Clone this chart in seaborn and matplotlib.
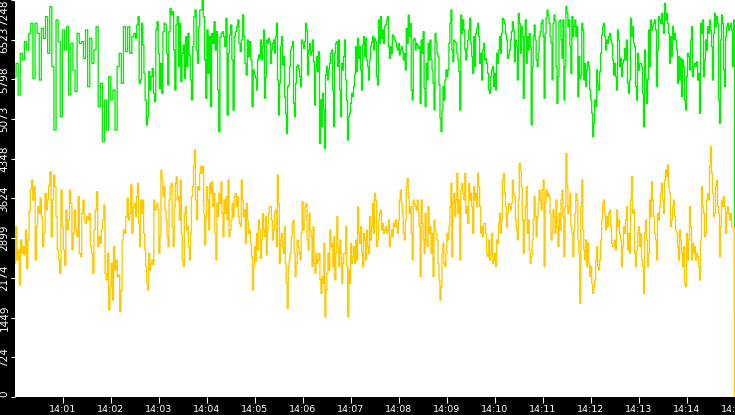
import numpy as np
import pandas as pd
import matplotlib
matplotlib.use("Agg")
import matplotlib.pyplot as plt
import seaborn as sns

# ---------------- data ----------------
green_1 = [5848, 6092, 5514, 6274, 6153, 6487, 6335, 6639, 6822, 5818, 6822, 6639, 5787, 6731, 6548, 6944,
           6274, 7126, 6031, 4874, 6883, 6487, 5118, 6700, 6335, 6761, 5514, 6457, 5970, 5574, 6639, 6457,
           6487, 6183, 6700, 5666, 6548, 6092, 6335, 6761, 5300, 5727, 4661, 5422, 4874, 5848, 5422, 5605,
           4874, 6031, 6274, 5727, 6761, 6305, 6761, 6274, 6579]
green_2 = [6639, 6548, 6792, 6944, 5727, 5787, 6822, 6426, 5909, 5422, 4966, 5118, 5940, 5605, 5848, 6000,
           5544, 5392, 6700, 6852, 6274, 5635, 6092, 5544, 6670, 6822, 6792, 6274, 5696, 6670, 7096, 6974,
           7035, 6335, 5605, 6792, 6944, 6031, 6822, 5757, 6274, 6426, 5818, 6579, 6031, 6639, 6244, 5787,
           5422, 6396, 6944, 7065, 6335, 6092, 6761, 7065, 7065, 7248, 6944, 6153, 5453, 6700, 5909, 6579,
           5300, 6639, 6457, 6852, 6335, 6670, 5605, 4844, 6579, 6639, 6670, 6579, 6396, 6913, 5148, 6274,
           6609, 6792, 6153, 5240, 6579, 6670, 6761, 6883, 6457, 6305, 6518, 6974, 6579, 6092, 5879, 6518,
           6213, 6487, 6153, 5300, 5970]
green_3 = [5879, 5818, 5605, 6153, 6244, 6183, 6518, 6153, 6396, 6700, 5453, 5848, 6518, 6457, 6548, 6487,
           6092, 6335, 6457, 6518, 6274, 6579, 6822, 5787, 5148, 5727, 6396, 6579, 6061, 6213, 5483, 5179,
           4814, 5666, 5696, 6031, 6335, 6396, 6487, 5361, 5118, 5727, 6031, 6061, 6000, 5848, 5666, 6518,
           6457, 6366, 6487, 6822, 6700, 5879, 6335, 6457, 6244, 6305, 6518, 6122, 5331, 5970, 6213, 5940,
           6305, 4631, 5422, 4935, 5544, 5240, 4540, 5879, 6031, 5787, 5970, 6092, 6274, 6335, 5605, 4935,
           6274, 6457, 6487, 6031, 6518, 5605, 5118, 6092, 5970, 6213, 6518, 5787, 5422, 4692, 5118, 5179,
           5361, 5544, 5483, 5666, 5879, 6396, 5940, 6548, 6183, 6396, 5970, 5605, 6426, 6579, 6213, 6548,
           6153, 6031, 5787, 6153, 6396, 6487, 6579, 6335]
green_4 = [6548, 6487, 5848, 5696, 6883, 6457, 6944, 6548, 6700, 6457, 6761, 6792, 6883, 6944, 6396, 6183,
           6396, 6274, 6609, 6579, 6518, 6487, 6396, 6335, 6457, 6244, 6335, 6396, 6305, 6153, 6274, 5970,
           6731, 6457, 6974, 6579, 6822, 5605, 5422, 6518, 6548, 6335, 6457, 6426, 6366, 6396, 5361, 6518,
           6274, 6670, 5635, 5300, 6092, 5787, 6457, 6153, 6518, 6153, 5970, 5727, 5240, 6639, 6487, 6274,
           6213, 5696, 5088, 4844, 5240, 5666, 5422, 5787, 5970, 5848, 5970, 6457, 6822, 7065, 6335, 6122,
           6518, 6487, 6457, 6274, 6153, 5940, 5240, 6974, 6639, 6883, 6700, 6335, 6153, 6366, 6518, 6700,
           6913, 6457, 6213, 5909, 6579, 6031, 6639, 6731, 6822, 6579, 6092, 6274, 5787, 6335, 6457, 6153,
           6183, 6092, 5909, 5605, 5544, 5848, 5970, 6031, 5666]
green_5 = [5909, 5605, 6274, 6092, 6335, 6579, 6274, 6639, 6913, 6883, 6822, 6639, 6518, 6183, 6244, 6335,
           6518, 6670, 6852, 6700, 6122, 6518, 6396, 5787, 7004, 6822, 6274, 6761, 6579, 5453, 6579, 6883,
           6092, 6579, 6335, 6639, 6396, 4966, 6031, 6579, 6792, 6518, 6153, 6031, 6274, 6579, 6670, 6822,
           6883, 6579, 5453, 6639, 6913, 7065, 6974, 6822, 6579, 6457, 5787, 6822, 6974, 6883, 6031, 5361,
           5848, 6852, 6883, 6518, 6183, 6883, 5422, 6031, 7126, 7004, 6761, 6883, 6396, 5909, 6944, 6579,
           6761, 6883, 6579, 6761, 5483, 6213, 5818, 5879, 6822, 6700, 5787, 6092, 5666, 5970, 6122, 6031,
           5605, 5422, 5179, 4753, 4996, 5422, 5300, 5970, 5696, 5605, 5940, 6274, 6609, 6761, 6822, 6579,
           6335, 6518, 6457, 6579, 6639, 6518, 6457, 6153, 5879]
green_6 = [6092, 5848, 5605, 6700, 6518, 6031, 6183, 5848, 6092, 6153, 6366, 6153, 6518, 5727, 5544, 5787,
           6913, 6579, 6761, 6457, 6396, 5666, 5422, 6274, 5970, 6092, 6092, 6031, 5544, 4935, 6335, 5818,
           5361, 5787, 6700, 6031, 6883, 6700, 6761, 6822, 6883, 6700, 5666, 6335, 6944, 6883, 6822, 7004,
           6822, 6639, 7187, 6883, 7004, 6822, 6639, 6092, 6579, 6213, 6761, 6518, 6639, 6518, 6335, 5727,
           6213, 5787, 6183, 5483, 6153, 6031, 5422, 5240, 5848, 6274, 6213, 5970, 6518, 6761, 5848, 6031,
           6092, 6031, 6122, 5787, 5909, 5179, 6822, 6639, 6883, 5848, 6153, 6518, 6335, 6761, 6639, 6883,
           6700, 6396, 5787, 6639, 7004, 6761, 6944, 6822, 5422, 4996, 6518, 6974, 6822, 5970, 5666, 6579,
           6761, 6822, 6700, 6761, 6822, 6700, 6031, 6883]
green_end = 1530

yellow_1 = [2440, 3109, 2501, 2684, 2045, 2866, 2623, 2744, 2592, 3049, 2349, 2866, 3383, 3779, 3962, 3596,
            3840, 2501, 3109, 3475, 3353, 3627, 3292, 2744, 2988, 3718, 3414, 3596, 3870, 4114, 2927, 3596,
            4053, 3840, 3292, 2684, 2501, 2258, 3779, 3109, 2684, 2410, 3414, 3049, 3231, 3779, 3535, 2684,
            2988, 3414, 3049, 2927, 3657, 2623, 2562, 3353, 3596, 3231, 3170, 3292, 3231, 3353, 2744, 2623,
            2258, 3049, 3414, 3749, 2744, 2927, 2805, 3049, 3231, 3505, 2258, 2136, 2623, 1588, 2014, 2440,
            1771, 2744, 2318, 2501, 2197, 2227, 1558, 1953, 2866, 3049, 2988, 3292, 3627, 3231, 3353, 3870,
            2988, 3475]
yellow_2 = [3535, 3292, 3657, 3901, 3170, 2744, 3596, 3353, 3596, 2988, 2684, 2379, 2075, 1953, 2623, 2318,
            2440, 2501, 2410, 3596, 3414, 3475, 3535, 3414, 2623, 2927, 4144, 3962, 3657, 3840, 3414, 3231,
            2927, 2744, 3596, 3840, 3901, 3109, 2744, 3475, 3901, 4022, 3596, 3657, 3231, 3962, 2988, 2501,
            2379, 3353, 3475, 3049, 3109, 2744, 2501, 2988, 3657, 3840, 4205, 4509, 3596, 3231, 3840, 3779,
            4083, 4205, 4083, 4205, 3353, 2775, 3292, 3840, 3596, 3049, 3901, 3718, 3931, 3475, 3718, 2988,
            2501, 3535, 3292, 3718, 3535, 3931, 3353, 2927, 3596, 3353, 3657, 3231, 3962, 2927, 3049, 3231,
            3535, 3292, 3657, 3718, 3475, 3657, 3292, 3170, 3109, 3962, 3596, 3292, 3414, 2805, 3535, 3231,
            2988, 3049, 2805, 2562, 1953, 2379]
yellow_3 = [2744, 2471, 2988, 2684, 3231, 3049, 2531, 2866, 3353, 3049, 2927, 3292, 2592, 3049, 3353, 3475,
            3475, 3231, 2866, 3049, 3353, 3414, 2744, 4053, 3535, 2440, 2866, 2988, 2744, 2623, 3109, 2440,
            2075, 1618, 2379, 2501, 2623, 2927, 3170, 3231, 2623, 2197, 2440, 2866, 2744, 2623, 2501, 2988,
            3566, 3049, 3231, 3475, 3535, 2866, 2684, 3353, 3049, 2927, 2379, 3109, 2440, 2258, 2623, 2440,
            2501, 2623, 2136, 1892, 2197, 2075, 2805, 1466, 1953, 2258, 2623, 2318, 3049, 2744, 2805, 2379,
            2927, 2136, 2623, 3292, 2744, 2379, 2866, 2623, 2075, 2440, 2623, 2623, 3109, 2379, 1466, 2318,
            2075, 2805, 2440, 2562, 2744, 2440, 2866, 2501, 3475, 2988, 2805, 3109, 2623, 2379, 2988, 2866,
            2501, 3049, 2744, 2623, 3292, 2866, 3109, 3535, 2988]
yellow_4 = [3718, 3596, 2744, 2866, 3231, 3353, 3414, 3049, 3170, 2988, 3049, 3109, 2988, 3049, 3231, 2744,
            2927, 3049, 2927, 3170, 3109, 3231, 3109, 2988, 3231, 3596, 3779, 3535, 3353, 2988, 2866, 3231,
            3840, 3992, 3657, 3353, 3475, 2988, 2501, 3596, 3535, 3475, 3414, 3596, 3353, 3109, 2197, 3596,
            3170, 2866, 2623, 3353, 2866, 2744, 3475, 2988, 3109, 2623, 2988, 2197, 3231, 3049, 2988, 2866,
            2440, 2136, 1771, 2014, 2623, 2805, 2440, 2379, 2623, 2988, 2866, 3109, 3475, 3901, 2562, 3535,
            3718, 3292, 3596, 4083, 3353, 3596, 2501, 3779, 3901, 3718, 3596, 4083, 3353, 3475, 3170, 3901,
            3596, 3718, 3475, 2988, 3840, 3596, 3718, 3475, 4083, 3840, 3475, 2988, 3109, 2927, 3170, 3170,
            2988, 2623, 2562, 2866, 2501, 2623, 2988, 2440, 2501]
yellow_5 = [2623, 2379, 2866, 2805, 3170, 3353, 2988, 3231, 3962, 4083, 3718, 3475, 3109, 3353, 3535, 3475,
            3414, 3535, 3962, 3718, 3657, 3231, 3049, 2866, 3596, 4266, 4144, 3840, 3231, 2623, 3231, 3475,
            3840, 2988, 3231, 2684, 2440, 2562, 2866, 3231, 3657, 3292, 2927, 3292, 3535, 3779, 3596, 3414,
            3779, 3962, 2379, 3535, 3779, 3657, 3718, 3657, 3353, 2866, 2988, 3414, 3292, 2988, 3596, 3109,
            2744, 3353, 3049, 3596, 3779, 3292, 2562, 3475, 4448, 3840, 3353, 3475, 3718, 3109, 2988, 2562,
            3049, 3353, 3718, 3596, 2866, 2623, 1710, 3475, 3962, 3049, 2684, 2501, 2866, 2379, 2805, 2440,
            2197, 2379, 2075, 1892, 2014, 2136, 2501, 2744, 2379, 2318, 2501, 2866, 3231, 3535, 3596, 3353,
            3049, 3292, 3109, 3353, 3414, 3109, 2805, 2744, 2744]
yellow_6 = [2866, 2684, 3414, 3109, 3231, 2988, 2866, 2379, 2744, 3109, 2988, 3231, 3475, 2684, 2988, 2623,
            3596, 4022, 3353, 3414, 2623, 2379, 2684, 2988, 3109, 2744, 2988, 2501, 2379, 1892, 2988, 3231,
            2866, 2379, 2623, 3596, 3292, 3931, 3596, 3292, 2988, 2866, 2501, 3353, 3231, 3475, 3718, 3901,
            3596, 3353, 3962, 4144, 4022, 4236, 3840, 3718, 3109, 3231, 3475, 3596, 3292, 3049, 2988, 2744,
            2501, 3049, 2866, 2623, 2379, 2744, 2075, 2014, 2988, 2501, 2866, 3475, 3109, 2501, 2805, 2623,
            2744, 2501, 2623, 2562, 2379, 2136, 2866, 3840, 3475, 3353, 2927, 2988, 3596, 3718, 3596, 4205,
            4570, 4083, 3718, 3292, 3353, 3840, 3962, 3475, 3353, 2562, 3109, 3596, 3475, 3657, 3475, 2988,
            3353, 3475, 3353, 3231, 3353, 3109, 3109, 3109]
yellow_end = 0

y_tick_labels = ["0", "724", "1449", "2174", "2899", "3624", "4348", "5073", "5798", "6523", "7248"]
x_tick_labels = ["14:01", "14:02", "14:03", "14:04", "14:05", "14:06", "14:07", "14:08",
                 "14:09", "14:10", "14:11", "14:12", "14:13", "14:14", "14:15"]
y_max = 7248
segment_seconds = 150

# ---------------- build the table ----------------
start = pd.Timestamp("2024-01-01 14:00:00")
end = start + pd.Timedelta(minutes=15)


def series_frame(segments, end_value, name):
    times, values = [], []
    for k, seg in enumerate(segments):
        n = len(seg)
        offs = k * segment_seconds + np.arange(n) * segment_seconds / n
        times.extend(start + pd.to_timedelta(offs, unit="s"))
        values.extend(seg)
    times.append(end)
    values.append(end_value)
    return pd.DataFrame({"time": times, "value": values, "series": name})


df = pd.concat([
    series_frame([green_1, green_2, green_3, green_4, green_5, green_6], green_end, "green"),
    series_frame([yellow_1, yellow_2, yellow_3, yellow_4, yellow_5, yellow_6], yellow_end, "yellow"),
], ignore_index=True)

# ---------------- plot ----------------
sns.set_style("white")
plt.rcParams["font.family"] = ["DejaVu Sans"]

W, H = 735, 415
fig = plt.figure(figsize=(W / 100, H / 100), dpi=100, facecolor="black")
ax = fig.add_axes([15 / W, 18 / H, 720 / W, 397 / H])
ax.set_facecolor("white")

sns.lineplot(data=df, x="time", y="value", hue="series",
             palette={"green": "#00ee00", "yellow": "#ffc800"},
             estimator=None, sort=False, legend=False, linewidth=0.95,
             drawstyle="steps-mid", ax=ax)

ax.set_xlim(start, end)
ax.set_ylim(0, y_max)
for s in ax.spines.values():
    s.set_visible(False)
ax.set_xlabel("")
ax.set_ylabel("")

xt = [start + pd.Timedelta(minutes=i + 1) for i in range(len(x_tick_labels))]
ax.set_xticks(xt)
ax.set_xticklabels(x_tick_labels, fontsize=6.8, color="white", family=["DejaVu Sans"])

yt = np.linspace(0, y_max, len(y_tick_labels))
ax.set_yticks(yt)
ylabels = ax.set_yticklabels(y_tick_labels, rotation=90, va="center", fontsize=7.5,
                             color="white", family=["Liberation Sans Narrow", "DejaVu Sans"])
ylabels[0].set_va("bottom")
ylabels[-1].set_va("top")

ax.tick_params(axis="x", colors="white", direction="out", length=4.5, width=0.8, pad=1.2,
               bottom=True)
ax.tick_params(axis="y", colors="white", direction="out", length=3.2, width=0.8, pad=0.8,
               left=True)
ax.grid(False)

fig.savefig("out.png", dpi=100, facecolor="black")
